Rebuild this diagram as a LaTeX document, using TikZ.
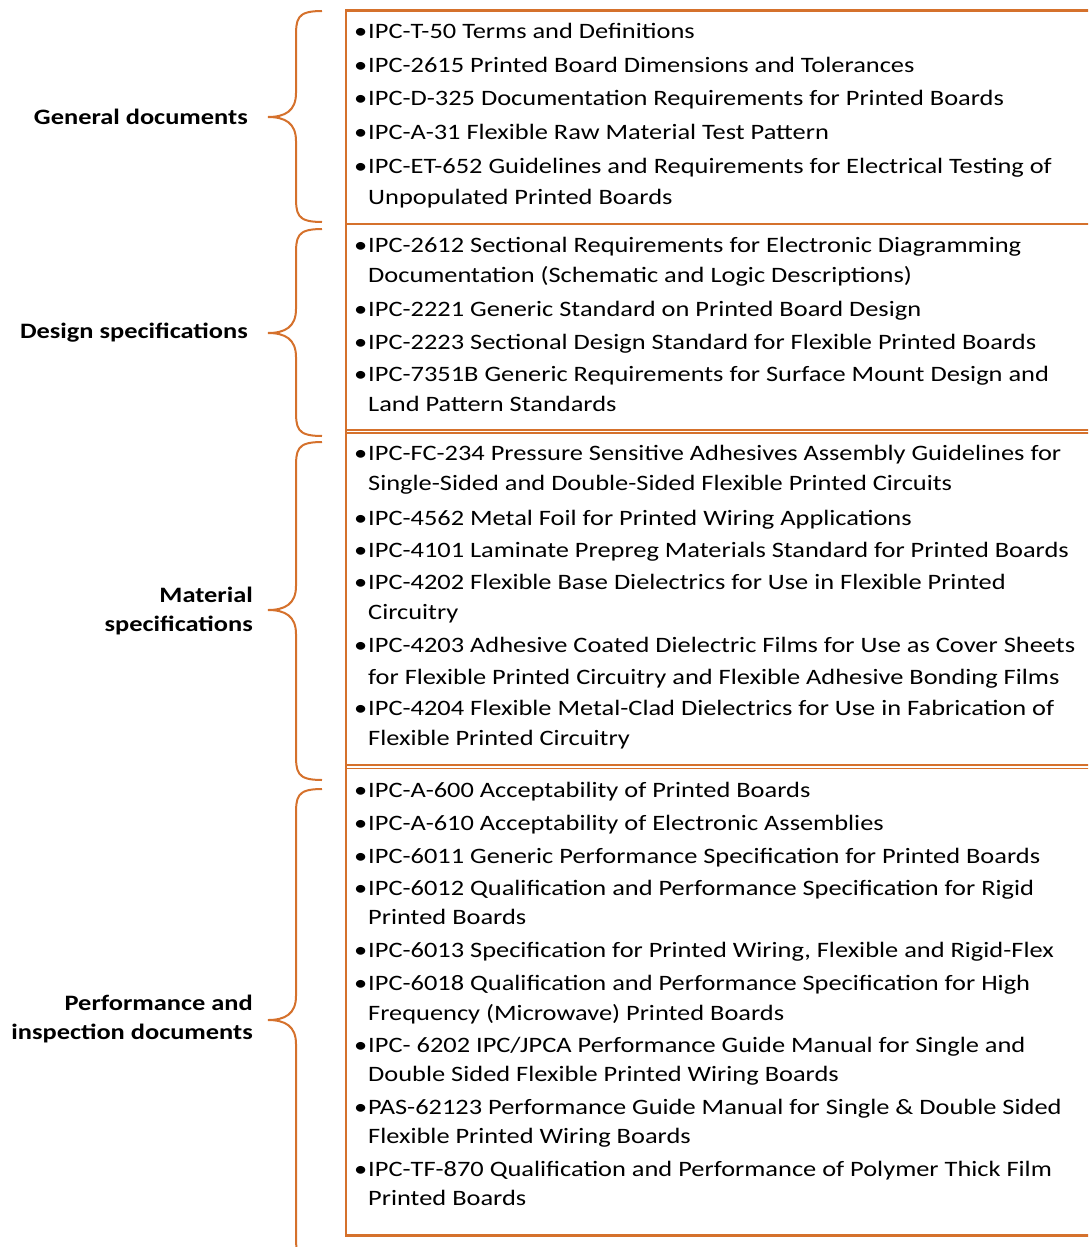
\documentclass[tikz,border=0pt]{standalone}
\usepackage{fontspec}
\setmainfont{Carlito}[FakeStretch=1.2]
\definecolor{frame}{RGB}{213,113,44}
\tikzset{
  listline/.style={anchor=base west, inner sep=0pt, font=\fontsize{22}{26}\selectfont, text=black},
  grouplabel/.style={anchor=east, inner sep=0pt, align=right, font=\fontsize{22}{29}\selectfont\bfseries, text=black},
  boxline/.style={draw=frame, line width=2.5pt},
  sepline/.style={draw=frame, line width=1.6pt},
  bracepath/.style={draw=frame, line width=2pt}
}
% one bulleted entry line and one continuation line of the lists
\newcommand{\bulletline}[3]{\node[listline] (#1) at (368,#2) {\llap{\makebox[15pt][c]{•}}#3};}
\newcommand{\contline}[3]{\node[listline] (#1) at (368,#2) {#3};}
% a left-pointing curly brace: top y, tip y, bottom y
\newcommand{\groupbrace}[3]{%
  \draw[bracepath] (322,#1) .. controls (296,#1) and (296,#1+8) .. (296,#1+28)
    -- (296,#2-24) .. controls (296,#2-6) and (285,#2) .. (268,#2)
    .. controls (285,#2) and (296,#2+6) .. (296,#2+24)
    -- (296,#3-28) .. controls (296,#3-8) and (296,#3) .. (322,#3);}
\begin{document}
\begin{tikzpicture}[x=1pt,y=-1pt]
\useasboundingbox (0,0) rectangle (1088,1247);
\begin{scope}
\clip (0,0) rectangle (1088,1247);
% outer frame and separators between the four groups
\draw[boxline] (346,10.5) rectangle (1100,1235.5);
\draw[sepline] (346,224) -- (1100,224);
\draw[sepline] (346,430) -- (1100,430);
\draw[sepline] (346,433) -- (1100,433);
\draw[sepline] (346,765) -- (1100,765);
\draw[sepline] (346,768.5) -- (1100,768.5);
% braces
\groupbrace{11}{117}{222}
\groupbrace{229}{333}{436}
\groupbrace{442}{610}{780}
\groupbrace{789}{1020}{1262}
\end{scope}

% group labels
\node[grouplabel] (lgen) at (248,117) {General documents};
\node[grouplabel] (ldes) at (248,333) {Design specifications};
\node[grouplabel] (lmat) at (253,611) {Material\\specifications};
\node[grouplabel] (lper) at (253,1019) {Performance and\\inspection documents};

% general documents
\bulletline{g1}{39}{IPC-T-50 Terms and Definitions}
\bulletline{g2}{72}{IPC-2615 Printed Board Dimensions and Tolerances}
\bulletline{g3}{105}{IPC-D-325 Documentation Requirements for Printed Boards}
\bulletline{g4}{139}{IPC-A-31 Flexible Raw Material Test Pattern}
\bulletline{g5}{173}{IPC-ET-652 Guidelines and Requirements for Electrical Testing of}
\contline{g5b}{204}{Unpopulated Printed Boards}

% design specifications
\bulletline{d1}{252}{IPC-2612 Sectional Requirements for Electronic Diagramming}
\contline{d1b}{282}{Documentation (Schematic and Logic Descriptions)}
\bulletline{d2}{316}{IPC-2221 Generic Standard on Printed Board Design}
\bulletline{d3}{349}{IPC-2223 Sectional Design Standard for Flexible Printed Boards}
\bulletline{d4}{381}{IPC-7351B Generic Requirements for Surface Mount Design and}
\contline{d4b}{411}{Land Pattern Standards}

% material specifications
\bulletline{m1}{460}{IPC-FC-234 Pressure Sensitive Adhesives Assembly Guidelines for}
\contline{m1b}{490}{Single-Sided and Double-Sided Flexible Printed Circuits}
\bulletline{m2}{525}{IPC-4562 Metal Foil for Printed Wiring Applications}
\bulletline{m3}{557}{IPC-4101 Laminate Prepreg Materials Standard for Printed Boards}
\bulletline{m4}{589}{IPC-4202 Flexible Base Dielectrics for Use in Flexible Printed}
\contline{m4b}{619}{Circuitry}
\bulletline{m5}{652}{IPC-4203 Adhesive Coated Dielectric Films for Use as Cover Sheets}
\contline{m5b}{684}{for Flexible Printed Circuitry and Flexible Adhesive Bonding Films}
\bulletline{m6}{715}{IPC-4204 Flexible Metal-Clad Dielectrics for Use in Fabrication of}
\contline{m6b}{745}{Flexible Printed Circuitry}

% performance and inspection documents
\bulletline{p1}{797}{IPC-A-600 Acceptability of Printed Boards}
\bulletline{p2}{830}{IPC-A-610 Acceptability of Electronic Assemblies}
\bulletline{p3}{863}{IPC-6011 Generic Performance Specification for Printed Boards}
\bulletline{p4}{895}{IPC-6012 Qualification and Performance Specification for Rigid}
\contline{p4b}{924}{Printed Boards}
\bulletline{p5}{957}{IPC-6013 Specification for Printed Wiring, Flexible and Rigid-Flex}
\bulletline{p6}{990}{IPC-6018 Qualification and Performance Specification for High}
\contline{p6b}{1020}{Frequency (Microwave) Printed Boards}
\bulletline{p7}{1052}{IPC- 6202 IPC/JPCA Performance Guide Manual for Single and}
\contline{p7b}{1081}{Double Sided Flexible Printed Wiring Boards}
\bulletline{p8}{1114}{PAS-62123 Performance Guide Manual for Single \& Double Sided}
\contline{p8b}{1143}{Flexible Printed Wiring Boards}
\bulletline{p9}{1176}{IPC-TF-870 Qualification and Performance of Polymer Thick Film}
\contline{p9b}{1205}{Printed Boards}
\end{tikzpicture}
\end{document}
